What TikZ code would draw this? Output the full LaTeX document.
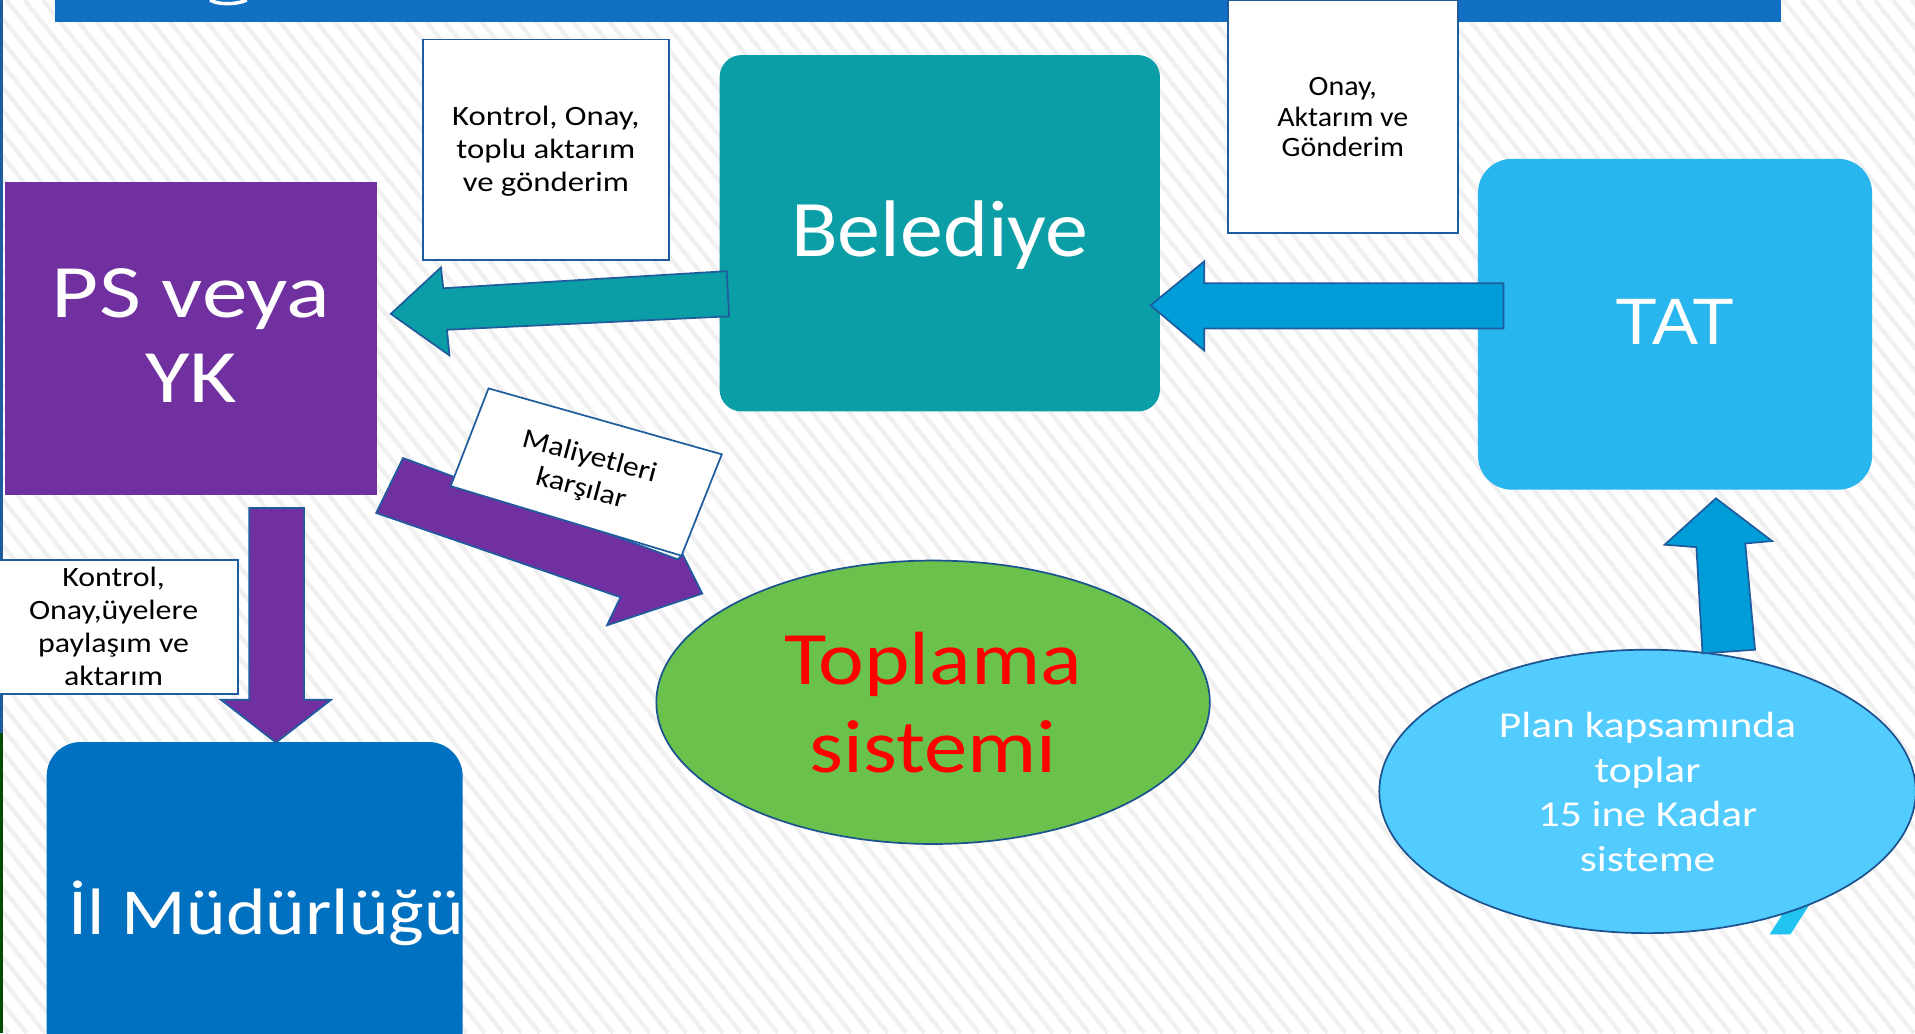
\documentclass[tikz,border=0pt]{standalone}
\usepackage{fontspec}
\usepackage{graphicx}
\setmainfont{Carlito}
\newfontfamily\arialish{Liberation Sans}
\usetikzlibrary{shapes.geometric}
\newlength{\uu}\setlength{\uu}{0.5669pt}
\newcommand{\fsz}[2]{\fontsize{#1\uu}{#2\uu}\selectfont}
% [downward shift]{horizontal stretch}{lines}
\newcommand{\hs}[3][0]{\vbox{\kern#1\uu\kern#1\uu\hbox{\scalebox{#2}[1]{\begin{tabular}{@{}c@{}}#3\end{tabular}}}}}
\definecolor{barblue}{HTML}{1170C4}
\definecolor{edgeblue}{HTML}{1F5C9E}
\definecolor{teal1}{HTML}{0B9EA6}
\definecolor{sky1}{HTML}{29B5EE}
\definecolor{sky2}{HTML}{009DD9}
\definecolor{sky3}{HTML}{52CBFF}
\definecolor{purp}{HTML}{7030A0}
\definecolor{mblue}{HTML}{0070C0}
\definecolor{grn}{HTML}{6AC24C}
\definecolor{stripe}{HTML}{F0F0F0}
\tikzset{
  x=0.02cm,y=-0.02cm,
  boxw/.style={draw=edgeblue,fill=white,line width=0.8pt,text=black,align=center,inner sep=0pt,font=\fsz{23}{27}},
  shapew/.style={text=white,align=center,inner sep=0pt},
  blockarrow/.style={line width=0.8pt,draw=edgeblue,line join=miter},
  oval/.style={ellipse,draw=edgeblue!90!black,line width=0.8pt,inner sep=0pt,align=center},
}
\begin{document}
\begin{tikzpicture}
\useasboundingbox (0,0) rectangle (1568,846);
\clip (0,0) rectangle (1568,846);
\fill[white] (0,0) rectangle (1568,846);
% hatched background
\foreach \s in {-700,-685,...,1600}{
  \draw[stripe,line width=2pt] (\s,0) -- ({\s+677},846);
}
% left edge
\draw[edgeblue,line width=1.2pt] (1,0) -- (1,600);
\draw[green!30!black,line width=1.2pt] (1,600) -- (1,846);
% top bar
\fill[barblue] (45,0) rectangle (1458,18);
\draw[white,line width=1.6pt] (172,0) .. controls (178,4) and (194,4) .. (202,0);
% shapes
\node[boxw,minimum width={202\uu},minimum height={181\uu}] (kontrolA) at (447,122.5) {\hs[2]{1.17}{Kontrol, Onay,\\toplu aktarım\\ve gönderim}};
\node[boxw,minimum width={189\uu},minimum height={191\uu},font=\fsz{23}{25}] (onay) at (1099.5,95.5) {\hs[3]{1.07}{Onay,\\Aktarım ve\\Gönderim}};
\node[shapew,fill=teal1,rounded corners=18\uu,minimum width={362\uu},minimum height={293\uu},font=\fsz{66}{72}] (belediye) at (769.5,191) {\hs[5]{1.07}{Belediye}};
\node[shapew,fill=sky1,rounded corners=28\uu,minimum width={324\uu},minimum height={272\uu},font=\arialish\fsz{54}{60}] (tat) at (1371.5,265.5) {\hs[4.5]{1.05}{TAT}};
\node[shapew,fill=purp,minimum width={306\uu},minimum height={257\uu},font=\fsz{62}{70}] (ps) at (156.5,277) {\hs[4]{1.21}{PS veya\\YK}};
\node[shapew,fill=mblue,rounded corners=28\uu,minimum width={342\uu},minimum height={280\uu}] (il) at (208.5,747) {};
\node[text=white,font=\fsz{54}{60},inner sep=0pt] (ilT) at (218,752) {\hs{1.15}{İl Müdürlüğü}};
\node[oval,fill=grn,minimum width={455\uu},minimum height={233\uu},text=red,font=\fsz{62}{72}] (toplama) at (764,575) {\hs[7]{1.15}{Toplama\\sistemi}};
\fill[sky1!80!cyan] (1449,765) -- (1466,765) -- (1482,740) -- (1465,740) -- cycle;
\node[oval,fill=sky3,minimum width={441\uu},minimum height={233\uu},text=white,font=\fsz{30}{36.5}] (plan) at (1349,648) {\hs[3.5]{1.19}{Plan kapsamında\\toplar\\15 ine Kadar\\sisteme}};
% block arrows
\filldraw[blockarrow,fill=teal1] (320,257) -- (361,219) -- (363,236) -- (595,222) -- (597,259) -- (366,270) -- (368,291) -- cycle;
\filldraw[blockarrow,fill=sky2] (942,250) -- (986,214) -- (986,232) -- (1231,232) -- (1231,269) -- (986,269) -- (986,287) -- cycle;
\filldraw[blockarrow,fill=sky2] (1405,408) -- (1451,443) -- (1429,445) -- (1437,532) -- (1394,535) -- (1389,448) -- (1363,446) -- cycle;
\filldraw[blockarrow,fill=purp] (226,608) -- (181,573) -- (204,573) -- (204,416) -- (249,416) -- (249,573) -- (271,573) -- cycle;
\filldraw[blockarrow,fill=purp] (330,375) -- (555,458) -- (559,454) -- (575,486) -- (497,512) -- (508,489) -- (308,420) -- cycle;
% label boxes over arrows
\node[boxw,minimum width={197\uu},minimum height={110\uu}] (kontrolB) at (96.5,513.5) {};
\node[text=black,align=center,inner sep=0pt,font=\fsz{23}{27}] (kontrolBT) at (93,515.5) {\hs{1.14}{Kontrol,\\Onay,üyelere\\paylaşım ve\\aktarım}};
\filldraw[edgeblue,fill=white,line width=0.8pt] (400,318) -- (591,372) -- (558,455) -- (369,398) -- cycle;
\node[text=black,align=center,inner sep=0pt,rotate=-15,font=\fsz{23}{27}] (malT) at (479,388) {\hs{1.13}{Maliyetleri\\karşılar}};
\end{tikzpicture}
\end{document}
